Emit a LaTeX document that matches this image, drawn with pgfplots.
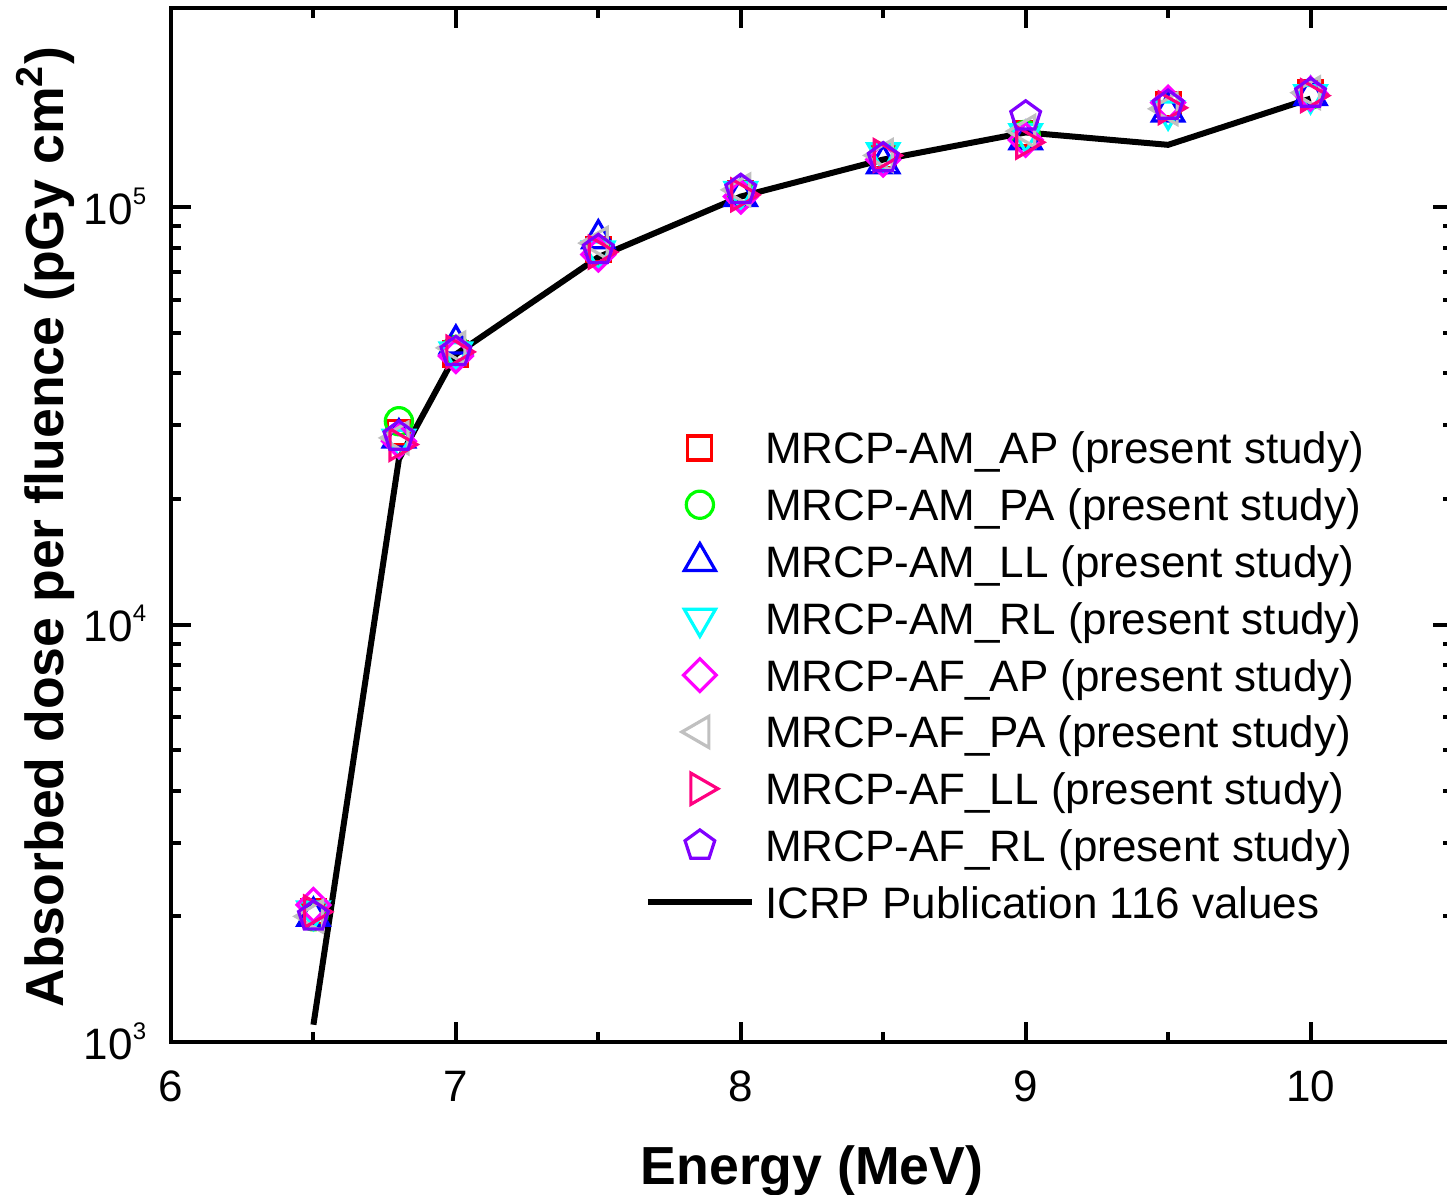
\documentclass[border=0pt]{standalone}
\usepackage{fontspec}
\setmainfont{Liberation Sans}
\usepackage{pgfplots}
\pgfplotsset{compat=1.18}
\definecolor{cRed}{RGB}{255,0,0}
\definecolor{cGreen}{RGB}{0,255,0}
\definecolor{cBlue}{RGB}{0,0,255}
\definecolor{cCyan}{RGB}{0,255,255}
\definecolor{cMag}{RGB}{255,0,255}
\definecolor{cGray}{RGB}{192,192,192}
\definecolor{cPink}{RGB}{255,0,128}
\definecolor{cViolet}{RGB}{128,0,255}
\pgfplotsset{
  markleg/.style={legend image code/.code={\path[draw=none,fill=none] (0pt,-1pt) (26pt,1pt); \path[overlay,##1,only marks] plot coordinates {(13pt,0pt)};}},
  lineleg/.style={legend image code/.code={\path[draw=none,fill=none] (0pt,-1pt) (26pt,1pt); \draw[overlay,##1] (0pt,0pt) -- (26pt,0pt);}}
}
\newcommand{\tl}[1]{10\raisebox{5pt}{\fontsize{6}{6}\selectfont #1}}
\begin{document}
\begin{tikzpicture}
\begin{axis}[name=ax, scale only axis, width=320.5pt, height=258.5pt,
  xmin=6, xmax=10.5, ymode=log, ymin=1000, ymax=3e5,
  xtick={6,7,8,9,10}, xticklabels={6,7,8,9,10}, minor x tick num=1,
  ytick={1000,10000,100000}, yticklabels={\tl{3},\tl{4},\tl{5}},
  tick align=inside, major tick length=5pt, minor tick length=2.5pt,
  axis line style={line width=1pt},
  every tick/.style={black, line width=1pt},
  ticklabel style={font=\fontsize{11}{13}\selectfont},
  xticklabel style={anchor=base, yshift=-14.75pt},
  yticklabel style={anchor=base east, inner sep=0pt, xshift=-6pt, yshift=-4.25pt},
  xlabel={Energy (MeV)},
  ylabel={Absorbed dose per fluence (pGy cm\textsuperscript{2})},
  label style={font=\bfseries\fontsize{13.4}{15}\selectfont},
  xlabel style={at={(axis description cs:0.5,0)}, anchor=base, yshift=-35.5pt},
  ylabel style={at={(axis description cs:-0.0842,0.498)}, anchor=base},
  legend style={at={(axis description cs:0.372,0.590)}, anchor=north west, draw=none, fill=none,
    inner sep=0pt, outer sep=0pt, row sep=6.2pt, column sep=3.3pt,
    font=\fontsize{11}{13}\selectfont,
    nodes={inner sep=0pt, text height=8pt, text depth=0pt}},
  legend cell align=left,
]
\addplot[only marks, cRed, mark=square, mark size=3pt, mark options={line width=0.8pt}, markleg] coordinates {
(6.5,2050) (6.8,28800) (7,44500) (7.5,79000) (8,108000) (8.5,133000) (9,150000) (9.5,176000) (10,188000)};
\addlegendentry{MRCP-AM\_AP (present study)}
\addplot[only marks, cGreen, mark=o, mark size=3.4pt, mark options={line width=0.8pt}, markleg] coordinates {
(6.5,2000) (6.8,30700) (7,45500) (7.5,78000) (8,107000) (8.5,132000) (9,149000) (9.5,175000) (10,186000)};
\addlegendentry{MRCP-AM\_PA (present study)}
\addplot[only marks, cBlue, mark=triangle, mark size=4.5pt, mark options={line width=0.8pt}, markleg] coordinates {
(6.5,2000) (6.8,28000) (7,47000) (7.5,84000) (8,106000) (8.5,127000) (9,145000) (9.5,169000) (10,185000)};
\addlegendentry{MRCP-AM\_LL (present study)}
\addplot[only marks, cCyan, mark=triangle, mark size=4.5pt, mark options={line width=0.8pt, rotate=180}, markleg] coordinates {
(6.5,2060) (6.8,27800) (7,45000) (7.5,78500) (8,109000) (8.5,135000) (9,150000) (9.5,170000) (10,186000)};
\addlegendentry{MRCP-AM\_RL (present study)}
\addplot[only marks, cMag, mark=square, mark size=2.9pt, mark options={line width=0.8pt, rotate=45}, markleg] coordinates {
(6.5,2130) (6.8,27500) (7,44000) (7.5,77000) (8,106000) (8.5,130000) (9,145000) (9.5,178000) (10,187000)};
\addlegendentry{MRCP-AF\_AP (present study)}
\addplot[only marks, cGray, mark=triangle, mark size=4.5pt, mark options={line width=0.8pt, rotate=90}, markleg] coordinates {
(6.5,2000) (6.8,28000) (7,46000) (7.5,82000) (8,110000) (8.5,133000) (9,152000) (9.5,172000) (10,188000)};
\addlegendentry{MRCP-AF\_PA (present study)}
\addplot[only marks, cPink, mark=triangle, mark size=4.5pt, mark options={line width=0.8pt, rotate=-90}, markleg] coordinates {
(6.5,2050) (6.8,27000) (7,45000) (7.5,78000) (8,107000) (8.5,133000) (9,143000) (9.5,173000) (10,185000)};
\addlegendentry{MRCP-AF\_LL (present study)}
\addplot[only marks, cViolet, mark=pentagon, mark size=3.9pt, mark options={line width=0.8pt}, markleg] coordinates {
(6.5,2000) (6.8,28200) (7,45000) (7.5,79000) (8,110000) (8.5,131000) (9,165000) (9.5,175000) (10,187000)};
\addlegendentry{MRCP-AF\_RL (present study)}
\addplot[black, line width=1.5pt, no marks, lineleg] coordinates {
(6.5,1100) (6.8,24900) (7,44400) (7.5,75900) (8,106000) (8.5,130000) (9,151000) (9.5,141000) (10,182000)};
\addlegendentry{ICRP Publication 116 values}
\end{axis}
\pgfresetboundingbox
\path ([xshift=-42.75pt,yshift=-38pt]ax.south west) rectangle ([xshift=-1.5pt,yshift=2pt]ax.north east);
\end{tikzpicture}
\end{document}
